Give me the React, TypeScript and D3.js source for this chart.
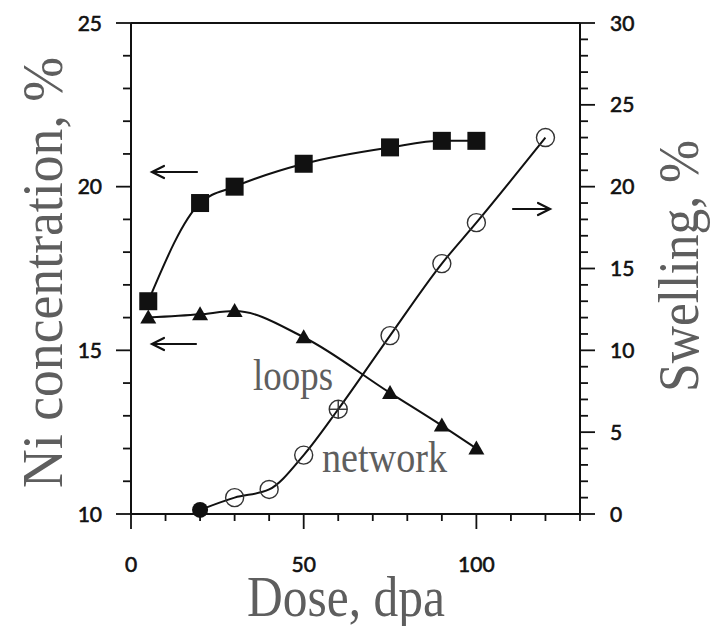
import React from "react";
import * as d3 from "d3";

// Ni concentration at sinks (left axis) and void swelling (right axis) vs dose
const niDose = [5, 20, 30, 50, 75, 90, 100];
const niSquares = [16.5, 19.5, 20.0, 20.7, 21.2, 21.4, 21.4];
const niTriangles = [16.0, 16.1, 16.2, 15.4, 13.7, 12.7, 12.0];

const swellDose = [20, 30, 40, 50, 60, 75, 90, 100, 120];
const swelling = [0.25, 1.0, 1.5, 3.6, 6.4, 10.9, 15.3, 17.8, 23.0];
const filledSwellDose = [20];
const crossedSwellDose = [60];

const doseTicks = [0, 50, 100];
const niTicks = [10, 15, 20, 25];
const swellTicks = [0, 5, 10, 15, 20, 25, 30];

const W = 713;
const H = 626;
const left = 131;
const right = 580;
const top = 23;
const bottom = 514;

const TITLE_FILL = "#5e5e5e";
const INK = "#111";

export default function App() {
  const x = d3.scaleLinear().domain([0, 130]).range([left, right]);
  const yNi = d3.scaleLinear().domain([10, 25]).range([bottom, top]);
  const ySw = d3.scaleLinear().domain([0, 30]).range([bottom, top]);

  const lineNi = (vals: number[]) =>
    d3
      .line<number>()
      .x((_, i) => x(niDose[i]))
      .y((v) => yNi(v))
      .curve(d3.curveMonotoneX)(vals) as string;

  const lineSw = d3
    .line<number>()
    .x((_, i) => x(swellDose[i]))
    .y((v) => ySw(v))
    .curve(d3.curveMonotoneX)(swelling) as string;

  const minorDose = d3.range(0, 131, 10);
  const minorNi = d3.range(10, 25.01, 1);
  const minorSw = d3.range(0, 30.01, 1);

  const tickFont = "Lato, 'Open Sans', sans-serif";
  const serif = "'Liberation Serif', 'Times New Roman', serif";
  const tickText = {
    fontFamily: tickFont,
    fontSize: 21,
    fill: INK,
    stroke: INK,
    strokeWidth: 0.6,
  };

  const sq = 18;
  const triPath = (cx: number, cy: number) =>
    `M${cx},${cy - 8}L${cx + 8},${cy + 6}L${cx - 8},${cy + 6}Z`;

  return (
    <svg
      width={W}
      height={H}
      viewBox={`0 0 ${W} ${H}`}
      style={{ position: "absolute", left: 0, top: 0, background: "#fff" }}
    >
      <rect width={W} height={H} fill="#fff" />

      {/* frame */}
      <g stroke={INK} strokeWidth={2} fill="none">
        <line x1={left} y1={top} x2={right} y2={top} />
        <line x1={left} y1={top} x2={left} y2={bottom} />
        <line x1={right} y1={top} x2={right} y2={bottom} />
        <line x1={left} y1={bottom} x2={right} y2={bottom} />
      </g>

      {/* bottom axis ticks */}
      <g stroke={INK} strokeWidth={1.8}>
        {minorDose.map((d) => {
          const major = doseTicks.includes(d);
          return (
            <line
              key={"xd" + d}
              x1={x(d)}
              x2={x(d)}
              y1={bottom}
              y2={bottom + (major ? 15 : 7)}
            />
          );
        })}
      </g>
      <g {...tickText} textAnchor="middle">
        {doseTicks.map((d) => (
          <text key={"xl" + d} x={x(d)} y={572}>
            {d}
          </text>
        ))}
      </g>

      {/* left axis ticks */}
      <g stroke={INK} strokeWidth={1.8}>
        {minorNi.map((v) => {
          const major = niTicks.includes(Math.round(v));
          return (
            <line
              key={"yl" + v}
              x1={left - (major ? 15 : 8)}
              x2={left}
              y1={yNi(v)}
              y2={yNi(v)}
            />
          );
        })}
      </g>
      <g {...tickText} textAnchor="end">
        {niTicks.map((v) => (
          <text key={"ylt" + v} x={102} y={yNi(v) + 7.5}>
            {v}
          </text>
        ))}
      </g>

      {/* right axis ticks */}
      <g stroke={INK} strokeWidth={1.8}>
        {minorSw.map((v) => {
          const major = swellTicks.includes(Math.round(v));
          return (
            <line
              key={"yr" + v}
              x1={right}
              x2={right + (major ? 15 : 8)}
              y1={ySw(v)}
              y2={ySw(v)}
            />
          );
        })}
      </g>
      <g {...tickText} textAnchor="start">
        {swellTicks.map((v) => (
          <text key={"yrt" + v} x={610} y={ySw(v) + 7.5}>
            {v}
          </text>
        ))}
      </g>

      {/* axis titles */}
      <text
        transform="translate(62,488) rotate(-90)"
        fontFamily={serif}
        fontSize={58}
        fill={TITLE_FILL}
        textLength={431}
        lengthAdjust="spacingAndGlyphs"
      >
        Ni concentration, %
      </text>
      <text
        transform="translate(698,392) rotate(-90)"
        fontFamily={serif}
        fontSize={58}
        fill={TITLE_FILL}
        textLength={252}
        lengthAdjust="spacingAndGlyphs"
      >
        Swelling, %
      </text>
      <text
        x={247}
        y={616}
        fontFamily={serif}
        fontSize={57}
        fill={TITLE_FILL}
        textLength={198}
        lengthAdjust="spacingAndGlyphs"
      >
        Dose, dpa
      </text>

      {/* curves */}
      <g fill="none" stroke={INK} strokeWidth={2}>
        <path d={lineNi(niSquares)} />
        <path d={lineNi(niTriangles)} />
        <path d={lineSw} />
      </g>

      {/* square markers */}
      <g fill={INK}>
        {niSquares.map((v, i) => (
          <rect
            key={"s" + i}
            x={x(niDose[i]) - sq / 2}
            y={yNi(v) - sq / 2}
            width={sq}
            height={sq}
          />
        ))}
      </g>

      {/* triangle markers */}
      <g fill={INK}>
        {niTriangles.map((v, i) => (
          <path key={"t" + i} d={triPath(x(niDose[i]), yNi(v))} />
        ))}
      </g>

      {/* swelling markers */}
      <g>
        {swelling.map((v, i) => {
          const cx = x(swellDose[i]);
          const cy = ySw(v);
          if (filledSwellDose.includes(swellDose[i])) {
            return <circle key={"c" + i} cx={cx} cy={cy} r={8} fill={INK} />;
          }
          const crossed = crossedSwellDose.includes(swellDose[i]);
          return (
            <g key={"c" + i} stroke="#333" strokeWidth={1.4} fill="none">
              <circle cx={cx} cy={cy} r={9} />
              {crossed && (
                <>
                  <line x1={cx - 9} x2={cx + 9} y1={cy} y2={cy} />
                  <line x1={cx} x2={cx} y1={cy - 9} y2={cy + 9} />
                </>
              )}
            </g>
          );
        })}
      </g>

      {/* axis pointers */}
      <g stroke={INK} strokeWidth={2.2} fill="none" strokeLinecap="round">
        <path d="M197,172H152M164,166L152,172L164,178" />
        <path d="M196,344H152M164,338L152,344L164,350" />
        <path d="M513,209H550M538,203L550,209L538,215" />
      </g>

      {/* series annotations */}
      <g fontFamily={serif} fontSize={44} fill={TITLE_FILL}>
        <text x={253} y={390} textLength={80} lengthAdjust="spacingAndGlyphs">
          loops
        </text>
        <text x={322} y={472} textLength={125} lengthAdjust="spacingAndGlyphs">
          network
        </text>
      </g>
    </svg>
  );
}
